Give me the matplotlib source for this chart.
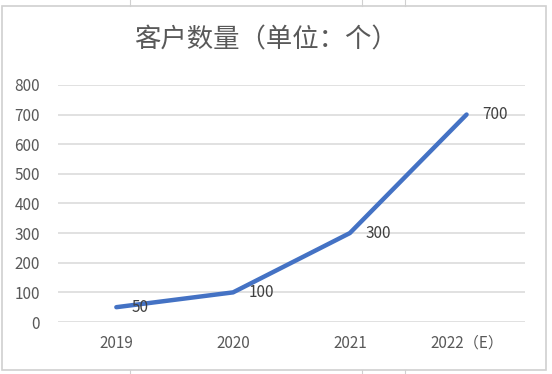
import matplotlib
matplotlib.use("Agg")
import matplotlib.pyplot as plt
from matplotlib.patches import Rectangle
from matplotlib.lines import Line2D

plt.rcParams['font.family'] = ['Noto Sans CJK SC', 'DejaVu Sans']

# Data
years = ['2019', '2020', '2021', '2022（E）']
customers = [50, 100, 300, 700]
y_ticks = [0, 100, 200, 300, 400, 500, 600, 700, 800]
title = '客户数量（单位：个）'

fig = plt.figure(figsize=(5.52, 3.74), dpi=100)
ax = fig.add_axes([0.105, 0.139, 0.846, 0.634])

x = range(len(years))
ax.plot(x, customers, color='#4472C4', linewidth=3.2, solid_capstyle='round',
        solid_joinstyle='round', zorder=3)

# Data labels to the right of each point
for xi, v in zip(x, customers):
    ax.annotate(str(v), (xi, v), xytext=(11, 0), textcoords='offset points',
                ha='left', va='center', fontsize=11, color='#404040', zorder=4)

ax.set_xlim(-0.5, len(years) - 0.5)
ax.set_ylim(0, 800)
ax.set_yticks(y_ticks)
ax.set_xticks(list(x))
ax.set_xticklabels(years)
ax.tick_params(axis='both', length=0, labelsize=11, labelcolor='#595959')
ax.tick_params(axis='y', pad=13)
ax.tick_params(axis='x', pad=9)
ax.yaxis.grid(True, color='#D9D9D9', linewidth=1.1)
ax.set_axisbelow(True)
for s in ax.spines.values():
    s.set_visible(False)

fig.text(0.482, 0.893, title, ha='center', va='center', fontsize=19,
         color='#595959')

# Chart border and surrounding sheet cell lines
fig.add_artist(Rectangle((0.004, 0.012), 0.985, 0.972, transform=fig.transFigure,
                         fill=False, edgecolor='#D0D0D0', linewidth=1.2))
for xf in [0.235, 0.655, 0.733]:
    fig.add_artist(Line2D([xf, xf], [0.984, 1.0], transform=fig.transFigure,
                          color='#D0D0D0', linewidth=0.8))
    fig.add_artist(Line2D([xf, xf], [0.0, 0.012], transform=fig.transFigure,
                          color='#D0D0D0', linewidth=0.8))

fig.savefig('out.png', dpi=100)
